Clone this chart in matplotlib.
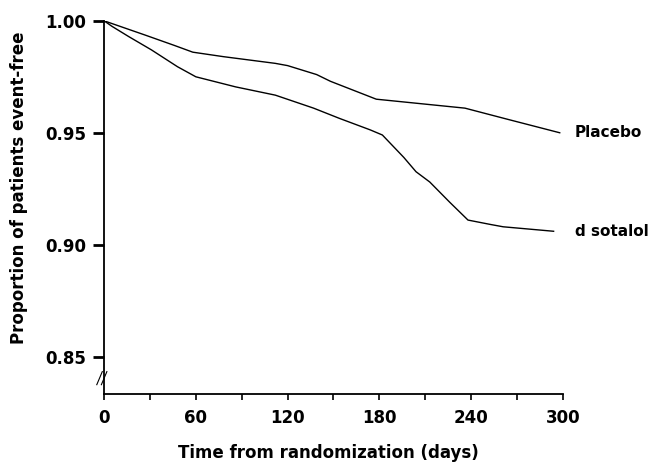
import numpy as np
import matplotlib
matplotlib.use("Agg")
import matplotlib.pyplot as plt

plt.rcParams["font.family"] = "DejaVu Sans"
plt.rcParams["font.weight"] = "bold"

placebo_days = [0, 27, 46, 58, 78, 112, 120, 139, 148, 178, 236, 264, 298]
placebo_vals = [1.000, 0.9936, 0.989, 0.986, 0.984, 0.981, 0.980, 0.976,
                0.973, 0.965, 0.961, 0.956, 0.950]

sotalol_days = [0, 5, 16, 31, 48, 60, 86, 112, 137, 154, 174, 182, 196,
                204, 213, 226, 238, 253, 261, 294]
sotalol_vals = [1.000, 0.9976, 0.993, 0.987, 0.9795, 0.975, 0.9705, 0.9668,
                0.961, 0.9564, 0.9513, 0.949, 0.939, 0.9326, 0.928, 0.919,
                0.911, 0.909, 0.908, 0.906]

x_ticks = [0, 60, 120, 180, 240, 300]
x_minor = [30, 90, 150, 210, 270]
y_ticks = [0.85, 0.90, 0.95, 1.00]
y_ticklabels = ["0.85", "0.90", "0.95", "1.00"]

fig = plt.figure(figsize=(6.59, 4.63), dpi=100)
ax = fig.add_axes([0.158, 0.149, 0.696, 0.806])

ax.plot(placebo_days, placebo_vals, color="black", linewidth=1.0)
ax.plot(sotalol_days, sotalol_vals, color="black", linewidth=1.0)

ax.annotate("Placebo", xy=(placebo_days[-1], placebo_vals[-1]),
            xytext=(15, 0), textcoords="offset pixels", va="center",
            ha="left", fontsize=11, fontweight="bold", annotation_clip=False)
ax.annotate("d sotalol", xy=(sotalol_days[-1], sotalol_vals[-1]),
            xytext=(21, 0), textcoords="offset pixels", va="center",
            ha="left", fontsize=11, fontweight="bold", annotation_clip=False)

ax.set_xlim(0, 300)
ax.set_ylim(0.8333, 1.0)

ax.spines["top"].set_visible(False)
ax.spines["right"].set_visible(False)
ax.spines["left"].set_linewidth(1.3)
ax.spines["bottom"].set_linewidth(1.3)

ax.set_xticks(x_ticks)
ax.set_xticks(x_minor, minor=True)
ax.set_yticks(y_ticks)
ax.set_yticklabels(y_ticklabels)
ax.tick_params(axis="x", which="both", direction="out", length=4, width=1.2,
               labelsize=12, pad=7)
ax.tick_params(axis="y", direction="out", length=8, width=2.0,
               labelsize=12, pad=5)
for lab in ax.get_xticklabels() + ax.get_yticklabels():
    lab.set_fontweight("bold")

ax.set_xlabel("Time from randomization (days)", fontsize=12, fontweight="bold")
ax.set_ylabel("Proportion of patients event-free", fontsize=12,
              fontweight="bold")
ax.xaxis.set_label_coords(0.49, -0.135)
ax.yaxis.set_label_coords(-0.166, 0.552)

# axis break marks
for dx in (-0.016, -0.006):
    ax.plot([dx, dx + 0.012], [0.025, 0.06], transform=ax.transAxes,
            color="black", linewidth=0.8, clip_on=False)

fig.savefig("out.png", dpi=100)
